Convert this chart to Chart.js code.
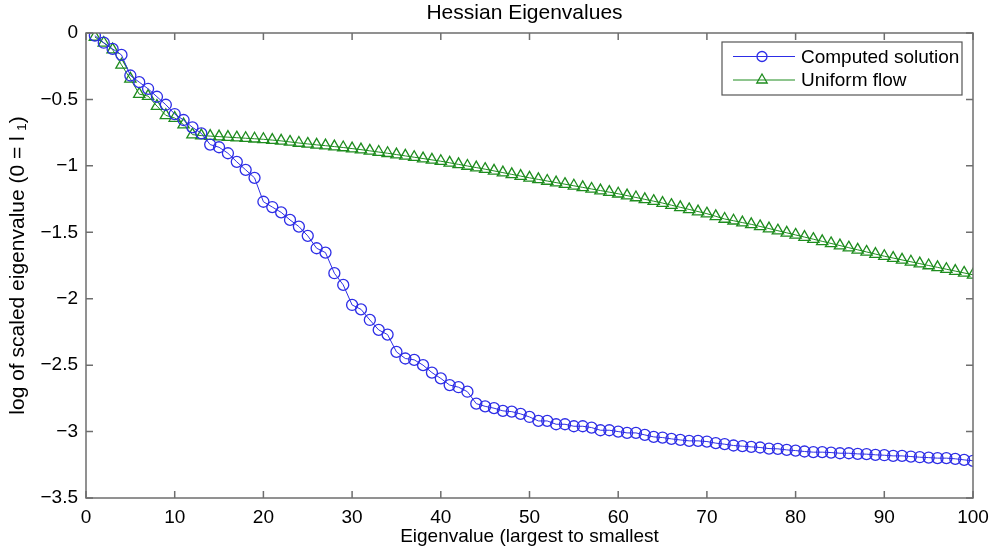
<!DOCTYPE html>
<html>
<head>
<meta charset="utf-8">
<script src="https://cdn.jsdelivr.net/npm/chart.js@4"></script>
<style>
html,body{margin:0;padding:0;background:#fff;}
#wrap{width:991px;height:551px;position:relative;}
</style>
</head>
<body>
<div id="wrap"><canvas id="c" width="991" height="551"></canvas></div>
<script>
const titleText = "Hessian Eigenvalues";
const xTitle = "Eigenvalue (largest to smallest";
const yTitle = "log of scaled eigenvalue (0 = l \u2081)";
const seriesNames = ["Computed solution", "Uniform flow"];
const xTicks = [0,10,20,30,40,50,60,70,80,90,100];
const yTicks = [0,-0.5,-1,-1.5,-2,-2.5,-3,-3.5];
const yTickLabels = ["0","\u22120.5","\u22121","\u22121.5","\u22122","\u22122.5","\u22123","\u22123.5"];

const indices = [];
for (let i = 1; i <= 100; i++) indices.push(i);

const computed = [
-0.02,-0.073,-0.12,-0.165,-0.32,-0.37,-0.42,-0.48,-0.54,-0.61,
-0.655,-0.71,-0.755,-0.84,-0.86,-0.905,-0.97,-1.03,-1.09,-1.27,
-1.31,-1.35,-1.407,-1.457,-1.527,-1.62,-1.653,-1.808,-1.896,-2.047,
-2.08,-2.16,-2.235,-2.27,-2.40,-2.45,-2.46,-2.50,-2.556,-2.60,
-2.65,-2.666,-2.70,-2.79,-2.81,-2.824,-2.844,-2.85,-2.867,-2.89,
-2.92,-2.92,-2.945,-2.945,-2.96,-2.96,-2.97,-2.99,-2.99,-3.0,
-3.01,-3.01,-3.025,-3.04,-3.045,-3.055,-3.063,-3.07,-3.07,-3.075,
-3.087,-3.095,-3.105,-3.11,-3.115,-3.12,-3.128,-3.13,-3.138,-3.143,
-3.15,-3.155,-3.155,-3.158,-3.163,-3.163,-3.168,-3.17,-3.175,-3.178,
-3.183,-3.183,-3.188,-3.193,-3.196,-3.20,-3.20,-3.205,-3.213,-3.22
];

const uniform = [
-0.03,-0.075,-0.125,-0.24,-0.345,-0.46,-0.475,-0.55,-0.62,-0.64,
-0.69,-0.765,-0.772,-0.776,-0.78,-0.784,-0.788,-0.792,-0.796,-0.80,
-0.806,-0.812,-0.82,-0.828,-0.835,-0.842,-0.848,-0.855,-0.862,-0.87,
-0.878,-0.887,-0.896,-0.905,-0.915,-0.925,-0.935,-0.945,-0.955,-0.965,
-0.977,-0.989,-1.001,-1.013,-1.025,-1.038,-1.051,-1.064,-1.077,-1.09,
-1.102,-1.114,-1.126,-1.138,-1.15,-1.162,-1.174,-1.186,-1.198,-1.21,
-1.224,-1.238,-1.252,-1.266,-1.28,-1.296,-1.312,-1.328,-1.344,-1.36,
-1.38,-1.40,-1.413,-1.427,-1.44,-1.456,-1.472,-1.488,-1.504,-1.52,
-1.536,-1.552,-1.568,-1.584,-1.60,-1.616,-1.632,-1.648,-1.664,-1.68,
-1.694,-1.708,-1.722,-1.736,-1.75,-1.764,-1.778,-1.792,-1.806,-1.82
];

const BLUE = 'rgb(45,45,230)';
const GREEN = 'rgb(30,140,30)';
const AXIS = '#6e6e6e';
const FONT = '"Liberation Sans", Arial, Helvetica, sans-serif';

const boxPlugin = {
  id: 'matlabBox',
  afterDatasetsDraw(chart) {
    const ctx = chart.ctx;
    const a = chart.chartArea;
    const xs = chart.scales.x, ys = chart.scales.y;
    const tl = 7;
    ctx.save();
    // title centred over the axes
    ctx.fillStyle = '#000';
    ctx.font = '21px ' + FONT;
    ctx.textAlign = 'center';
    ctx.textBaseline = 'middle';
    ctx.fillText(titleText, (a.left + a.right) / 2 - 5, 13);

    ctx.strokeStyle = AXIS;
    ctx.lineWidth = 1.5;
    ctx.strokeRect(a.left, a.top, a.right - a.left, a.bottom - a.top);
    ctx.beginPath();
    xTicks.forEach(v => {
      const px = xs.getPixelForValue(v);
      ctx.moveTo(px, a.bottom); ctx.lineTo(px, a.bottom - tl);
      ctx.moveTo(px, a.top); ctx.lineTo(px, a.top + tl);
    });
    yTicks.forEach(v => {
      const py = ys.getPixelForValue(v);
      ctx.moveTo(a.left, py); ctx.lineTo(a.left + tl, py);
      ctx.moveTo(a.right, py); ctx.lineTo(a.right - tl, py);
    });
    ctx.stroke();

    // legend
    const lx = 722, ly = 42, lw = 240, lh = 53;
    ctx.fillStyle = '#fff';
    ctx.fillRect(lx, ly, lw, lh);
    ctx.strokeStyle = '#555';
    ctx.lineWidth = 1.2;
    ctx.strokeRect(lx, ly, lw, lh);
    const rows = [56.5, 80];
    chart.data.datasets.forEach((ds, i) => {
      const y = rows[i];
      ctx.strokeStyle = ds.borderColor;
      ctx.lineWidth = 1;
      ctx.beginPath();
      ctx.moveTo(733, y); ctx.lineTo(795, y);
      ctx.stroke();
      ctx.lineWidth = 1.3;
      ctx.fillStyle = 'rgba(0,0,0,0)';
      ctx.strokeStyle = ds.borderColor;
      Chart.helpers.drawPoint(ctx, {pointStyle: ds.pointStyle, radius: ds.pointRadius - 0.5, borderWidth: 1.3}, 762, y);
      ctx.fillStyle = '#000';
      ctx.font = '19px ' + FONT;
      ctx.textBaseline = 'middle';
      ctx.textAlign = 'left';
      ctx.fillText(ds.label, 801, y + 1);
    });
    ctx.restore();
  }
};

new Chart(document.getElementById('c'), {
  type: 'line',
  data: {
    datasets: [
      {
        label: seriesNames[0],
        data: indices.map((x, i) => ({x: x, y: computed[i]})),
        borderColor: BLUE,
        backgroundColor: 'rgba(0,0,0,0)',
        borderWidth: 1,
        pointStyle: 'circle',
        pointRadius: 5.5,
        pointBorderWidth: 1.3,
        pointBorderColor: BLUE,
        pointBackgroundColor: 'rgba(0,0,0,0)',
        tension: 0
      },
      {
        label: seriesNames[1],
        data: indices.map((x, i) => ({x: x, y: uniform[i]})),
        borderColor: GREEN,
        backgroundColor: 'rgba(0,0,0,0)',
        borderWidth: 1,
        pointStyle: 'triangle',
        pointRadius: 6.5,
        pointBorderWidth: 1.3,
        pointBorderColor: GREEN,
        pointBackgroundColor: 'rgba(0,0,0,0)',
        tension: 0
      }
    ]
  },
  options: {
    responsive: false,
    animation: false,
    events: [],
    layout: { padding: { left: 0, right: 18, top: 33, bottom: 0 } },
    plugins: {
      legend: { display: false },
      tooltip: { enabled: false },
      title: { display: false }
    },
    scales: {
      x: {
        type: 'linear',
        min: 0, max: 100,
        afterFit(s) { s.height = 53; s.paddingLeft = 0; s.paddingRight = 0; },
        afterBuildTicks(s) { s.ticks = xTicks.map(v => ({value: v})); },
        grid: { display: false, drawTicks: false },
        border: { display: false },
        ticks: {
          color: '#000',
          padding: 8,
          maxRotation: 0,
          autoSkip: false,
          font: { family: FONT, size: 19 },
          callback: v => String(v)
        },
        title: {
          display: true,
          text: xTitle,
          color: '#000',
          font: { family: FONT, size: 19, lineHeight: 1.2 },
          padding: { top: 0, bottom: 3 }
        }
      },
      y: {
        type: 'linear',
        min: -3.5, max: 0,
        afterFit(s) { s.width = 86; s.paddingTop = 0; s.paddingBottom = 0; },
        afterBuildTicks(s) { s.ticks = yTicks.map(v => ({value: v})); },
        grid: { display: false, drawTicks: false },
        border: { display: false },
        ticks: {
          color: '#000',
          padding: 8,
          autoSkip: false,
          font: { family: FONT, size: 19 },
          callback: v => { const k = yTicks.indexOf(v); return k >= 0 ? yTickLabels[k] : ''; }
        },
        title: {
          display: true,
          text: yTitle,
          color: '#000',
          font: { family: FONT, size: 21, lineHeight: 1.2 },
          padding: { top: 6, bottom: 0 }
        }
      }
    }
  },
  plugins: [boxPlugin]
});
</script>
</body>
</html>
